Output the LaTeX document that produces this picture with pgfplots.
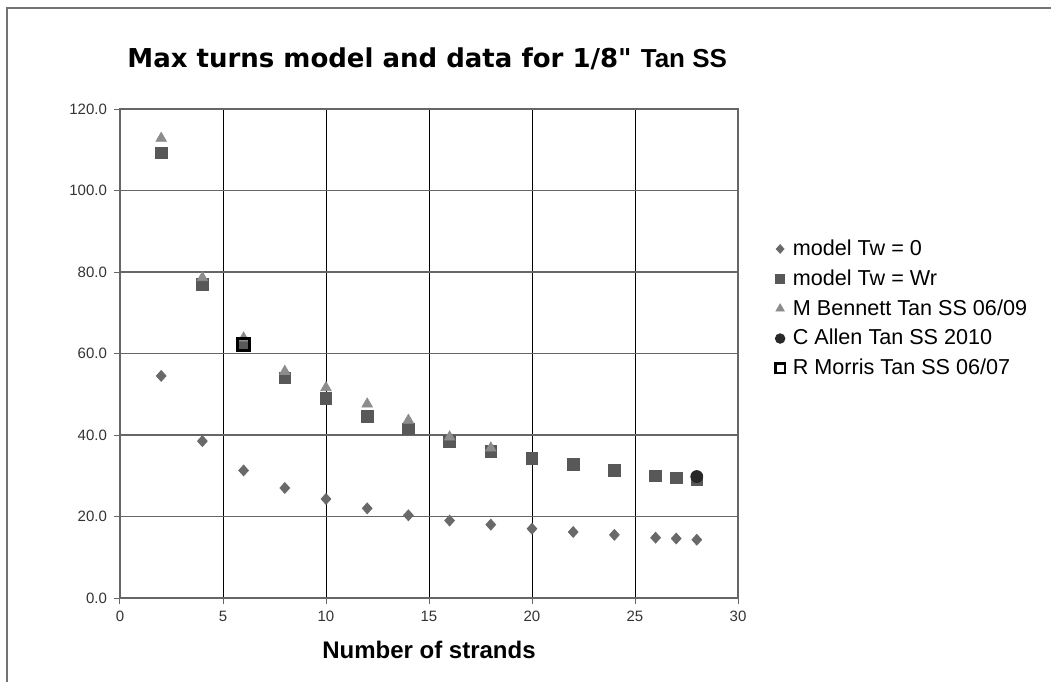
\documentclass[border=0pt]{standalone}
\usepackage{fontspec}
\setmainfont{Liberation Sans}
\newfontfamily\titlefont{DejaVu Sans}
\usepackage{pgfplots}
\pgfplotsset{compat=1.18}
\definecolor{modelA}{RGB}{105,105,105}
\definecolor{modelB}{RGB}{88,88,88}
\definecolor{bennett}{RGB}{140,140,140}
\definecolor{allen}{RGB}{40,40,40}
\begin{document}
\begin{tikzpicture}[x=0.5pt,y=0.5pt]
% page: 1051 x 682 px at 0.5pt per px
\path[use as bounding box] (0,0) rectangle (1051,682);
\draw[black!55, line width=1pt] (7,0) -- (7,674) -- (1051,674);
\node[anchor=base west, inner sep=0pt] at (127,614)
  {\fontsize{13}{15}\selectfont\titlefont\bfseries Max turns model and data for 1/8" {\rmfamily Tan SS}};
\begin{axis}[
    at={(60pt,42pt)}, anchor=south west,
    scale only axis,
    width=309pt, height=244.5pt,
    xmin=0, xmax=30, ymin=0, ymax=120,
    xtick={0,5,...,30},
    ytick={0,20,...,120},
    xmajorgrids=true, ymajorgrids=true,
    x grid style={black, line width=0.5pt},
    y grid style={black!60, line width=0.9pt},
    axis line style={black!60, line width=0.8pt},
    tick align=outside,
    major tick length=3pt,
    tick style={black!60, line width=0.5pt},
    xtick pos=bottom, ytick pos=left,
    tick label style={font=\fontsize{7.5}{9}\selectfont, text=black!80},
    yticklabel style={/pgf/number format/.cd, fixed, fixed zerofill, precision=1, assume math mode=true},
    xticklabel style={/pgf/number format/assume math mode=true},
    xlabel={\bfseries Number of strands},
    xlabel style={font=\fontsize{12}{14}\selectfont, yshift=-3pt},
    legend style={at={(1.049,0.75)}, anchor=north west, draw=none, fill=none,
      font=\fontsize{10.8}{12}\selectfont, row sep=1.6pt,
      legend cell align=left},
    legend image code/.code={\path[draw=none, fill=none] (0,0) rectangle (0.25cm,0.01cm);\draw[#1, scale=0.8] plot coordinates {(0.12cm,0cm)};},
]
\addplot[only marks, mark=diamond*, mark size=2.7pt, mark options={xscale=1.2}, color=modelA]
 coordinates {(2,54.5)(4,38.5)(6,31.3)(8,27.0)(10,24.3)(12,22.0)(14,20.3)(16,19.0)(18,18.0)(20,17.0)(22,16.2)(24,15.5)(26,14.8)(27,14.6)(28,14.3)};
\addplot[only marks, mark=square*, mark size=2.9pt, color=modelB]
 coordinates {(2,109.2)(4,77.0)(6,62.5)(8,54.0)(10,49.0)(12,44.5)(14,41.5)(16,38.5)(18,36.0)(20,34.3)(22,32.8)(24,31.3)(26,30.0)(27,29.5)(28,29.0)};
\addplot[only marks, mark=triangle*, mark size=3pt, color=bennett]
 coordinates {(2,112.8)(4,78.6)(6,63.8)(8,55.6)(10,51.6)(12,47.6)(14,43.6)(16,39.5)(18,36.8)};
\addplot[only marks, mark=*, mark size=3pt, color=allen]
 coordinates {(28,29.8)};
\addplot[only marks, mark=square, mark size=3pt, color=black, line width=1.2pt]
 coordinates {(6,62.2)};
\legend{model Tw = 0, model Tw = Wr, M Bennett Tan SS 06/09, C Allen Tan SS 2010, R Morris Tan SS 06/07}
\end{axis}
\end{tikzpicture}
\end{document}
